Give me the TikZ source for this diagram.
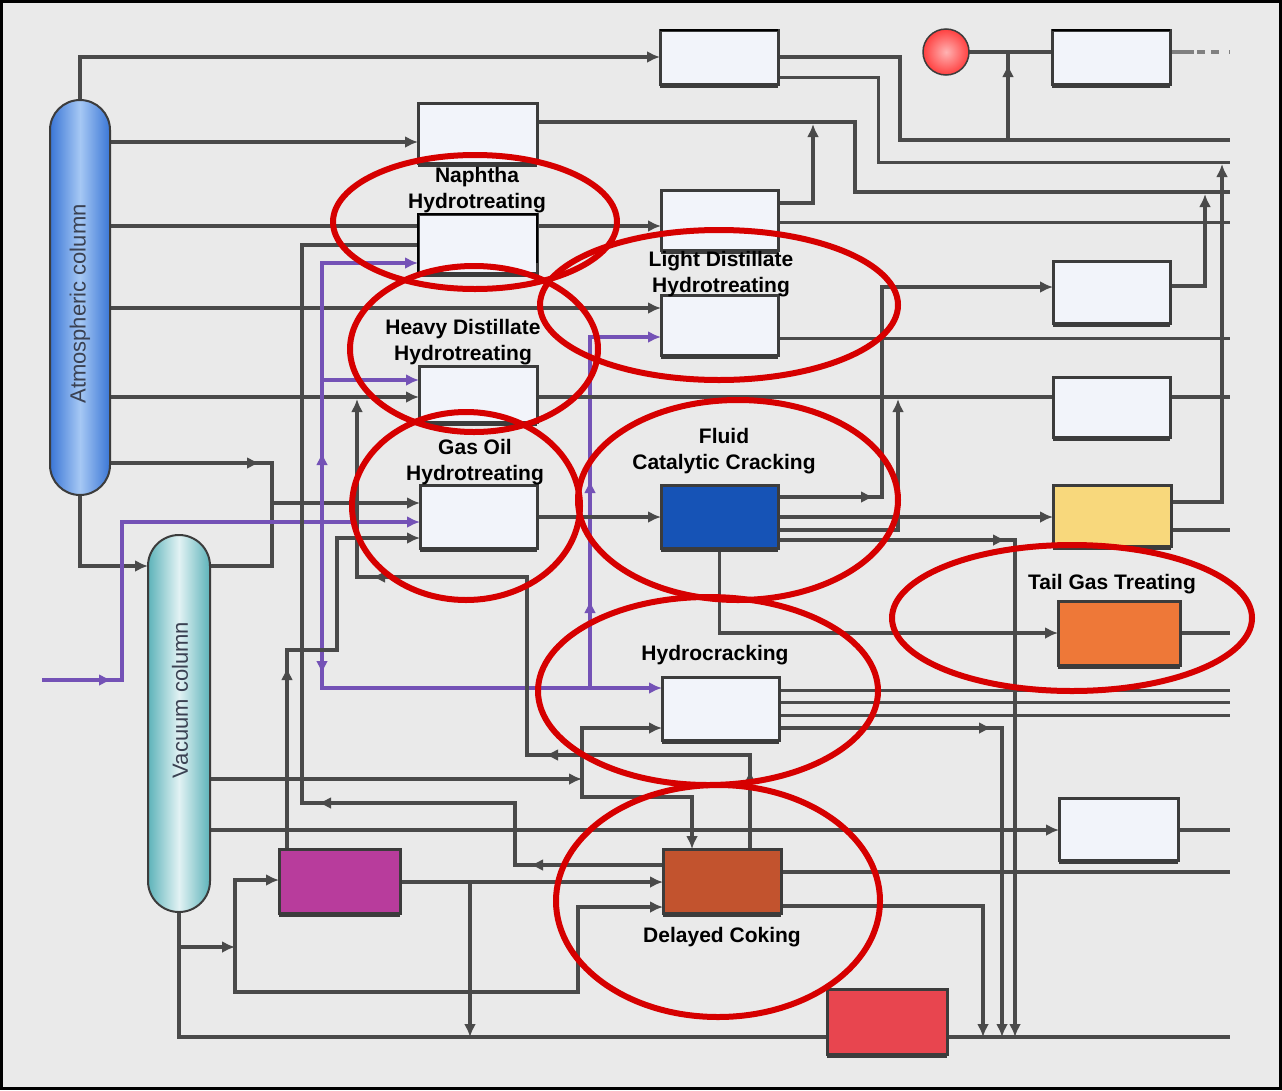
\documentclass[tikz,border=0pt]{standalone}
\usepackage{fontspec}
\setmainfont{Liberation Sans}
\usetikzlibrary{arrows.meta,decorations.markings,calc}
\pgfdeclarelayer{back}
\pgfdeclarelayer{front}
\pgfsetlayers{back,main,front}
\definecolor{bgc}{HTML}{EAEAEA}
\definecolor{pipec}{HTML}{4A4A4A}
\definecolor{boxc}{HTML}{3C3C3C}
\definecolor{boxw}{HTML}{F2F4FA}
\definecolor{h2c}{HTML}{7452B6}
\definecolor{ringc}{HTML}{D60000}
\definecolor{fccc}{HTML}{1653B6}
\definecolor{yelc}{HTML}{F8D87C}
\definecolor{orac}{HTML}{EE7838}
\definecolor{magc}{HTML}{B83C9C}
\definecolor{cokc}{HTML}{C2532E}
\definecolor{redb}{HTML}{E8454F}
\definecolor{atmE}{HTML}{3A76D6}
\definecolor{atmM}{HTML}{A6C8F4}
\definecolor{vacE}{HTML}{5DB3B9}
\definecolor{vacM}{HTML}{E2F2F4}
\definecolor{colt}{HTML}{3A4152}
\begin{document}
\begin{tikzpicture}[x=1pt,y=-1pt,>={Latex[length=13pt,width=12pt]},
  pipe/.style={draw=pipec,line width=3.5pt},
  h2/.style={draw=h2c,line width=4pt},
  wbox/.style={draw=boxc,line width=3pt,fill=boxw,inner sep=0pt,outer sep=0pt},
  ring/.style={draw=ringc,line width=6pt},
  lab/.style={font=\fontsize{21}{26}\selectfont\bfseries,align=center,text=black},
  coltxt/.style={font=\fontsize{22}{26}\selectfont,rotate=90,text=colt},
  am/.style={postaction={decorate,decoration={markings,mark=at position #1 with {\arrow{>}}}}}]
\useasboundingbox (0,0) rectangle (1282,1090);

% columns
\node[draw=boxc,line width=2pt,rounded corners=30pt,minimum width=60,minimum height=395,inner sep=0pt,outer sep=0pt,left color=atmE,right color=atmE,middle color=atmM] (atm) at (80,297.5) {};
\node[coltxt] (atmlab) at (80,304) {Atmospheric column};
\node[draw=boxc,line width=2pt,rounded corners=31pt,minimum width=62,minimum height=377,inner sep=0pt,outer sep=0pt,left color=vacE,right color=vacE,middle color=vacM] (vac) at (179,723.5) {};
\node[coltxt] (vaclab) at (180,700) {Vacuum column};

% boxes
\node[wbox,minimum width=118,minimum height=54] (b1) at (719,57) {};
\node[wbox,minimum width=118,minimum height=54] (b2) at (1111,57) {};
\node[circle,draw=boxc,line width=1.5pt,minimum size=46,inner sep=0pt,outer sep=0pt,inner color=red!30!white,outer color=red!75!white] (circ) at (946,52) {};
\node[wbox,minimum width=119,minimum height=60] (nhtU) at (477.5,133) {};
\node[wbox,minimum width=119,minimum height=59] (nhtL) at (477.5,243.5) {};
\node[wbox,minimum width=117,minimum height=60] (ldhU) at (719.5,220) {};
\node[wbox,minimum width=117,minimum height=60] (ldhL) at (719.5,325) {};
\node[wbox,minimum width=118,minimum height=56] (hdh) at (478,394) {};
\node[wbox,minimum width=117,minimum height=63] (goh) at (478.5,516.5) {};
\node[wbox,fill=fccc,minimum width=117,minimum height=63] (fcc) at (719.5,516.5) {};
\node[wbox,minimum width=117,minimum height=62] (r1) at (1111.5,292) {};
\node[wbox,minimum width=117,minimum height=60] (r2) at (1111.5,407) {};
\node[wbox,fill=yelc,minimum width=118,minimum height=61] (yel) at (1112,515.5) {};
\node[wbox,fill=orac,minimum width=122,minimum height=64] (tg) at (1119,633) {};
\node[wbox,minimum width=117,minimum height=63] (hc) at (720.5,708.5) {};
\node[wbox,minimum width=119,minimum height=62] (r3) at (1118.5,829) {};
\node[wbox,fill=magc,minimum width=121,minimum height=64] (pbox) at (339.5,881) {};
\node[wbox,fill=cokc,minimum width=118,minimum height=64] (coker) at (722,881) {};
\node[wbox,fill=redb,minimum width=120,minimum height=65] (rbox) at (887,1021.5) {};
\foreach \b in {b1,b2,nhtU,nhtL,ldhU,ldhL,hdh,goh,fcc,r1,r2,yel,tg,hc,r3,pbox,coker,rbox}
  \draw[boxc,line width=4pt] ([yshift=-2pt]\b.south west) -- ([yshift=-2pt]\b.south east);
\draw[black,line width=2.5pt] (b1.north west) -- (b1.north east);
\draw[black,line width=2.5pt] (b2.north west) -- (b2.north east);
\draw[black,line width=2.5pt] (nhtL.south west) -- (nhtL.north west) -- (nhtL.north east) -- ([yshift=10pt]nhtL.south east);

\coordinate (rim) at (1230,0);
\coordinate (feed) at (42,680);

\begin{pgfonlayer}{back}
\fill[bgc] (0,0) rectangle (1282,1090);
% atmospheric column outputs
\draw[pipe,->] (atm.north) |- (b1.west);
\draw[pipe,->] (atm.east|-0,142) -- (nhtU.west|-0,142);
\draw[pipe,->] (atm.east|-0,226) -- (ldhU.west|-0,226);
\draw[pipe,->] (atm.east|-0,308) -- (ldhL.west|-0,308);
\draw[pipe,->] (atm.east|-0,397) -- (hdh.west|-0,397);
\draw[pipe,->,am=150pt] (atm.east|-0,463) -| (272,503) -- (goh.west|-0,503);
\draw[pipe] (vac.east|-0,566) -| (272,503);
\draw[pipe,->] (atm.south) |- (vac.west|-0,566);
% hydrogen
\draw[h2,->,am=70pt] (feed) -| (122,522) -- (goh.west|-0,522);
\draw[h2,->,am=70pt] (322,522) |- (nhtL.west|-0,263);
\draw[h2,->] (322,380) -- (hdh.west|-0,380);
\draw[h2,->,am=152pt] (322,522) |- (hc.west|-0,688);
\draw[h2,->,am=88pt,am=208pt] (590,688) |- (ldhL.west|-0,337);
% recycles
\draw[pipe,am=133pt,am=407pt] (coker.west|-0,865) -| (515,803) -| (302,245) -- (nhtL.west|-0,245);
\draw[pipe,->,am=182pt] (pbox.north-|287,0) |- (337,650) |- (goh.west|-0,538);
\draw[pipe,->,am=79pt,am=299pt,am=650pt] (coker.north-|750,0) |- (527,755) |- (357,577) -- (357,399);
% vacuum column outputs
\draw[pipe,->] (vac.east|-0,779) -- (582,779);
\draw[pipe,->] (582,779) |- (hc.west|-0,728);
\draw[pipe,->] (582,779) |- (692,797) -- (coker.north-|692,0);
\draw[pipe,->] (vac.east|-0,830) -- (r3.west|-0,830);
\draw[pipe] (vac.south) |- (rim|-0,1037);
\draw[pipe,->] (vac.south|-0,947) -- (235,947);
\draw[pipe,->] (235,992) |- (pbox.west|-0,880);
\draw[pipe,->] (235,947) |- (578,992) |- (coker.west|-0,907);
\draw[pipe,->] (pbox.east|-0,882) -- (coker.west|-0,882);
\draw[pipe,->] (470,882) -- (470,1037);
% coker outputs
\draw[pipe] (coker.east|-0,872) -- (rim|-0,872);
\draw[pipe,->] (coker.east|-0,906) -| (983,1037);
% hydrocracker outputs
\foreach \yy in {690,702,715} \draw[pipe,line width=3pt] (hc.east|-0,\yy) -- (rim|-0,\yy);
\draw[pipe,->,am=213pt] (hc.east|-0,728) -| (1002,1037);
% gas oil / FCC
\draw[pipe,->] (goh.east|-0,517) -- (fcc.west|-0,517);
\draw[pipe,->,am=96pt] (fcc.east|-0,497) -| (882,287) -- (r1.west|-0,287);
\draw[pipe,->] (fcc.east|-0,517) -- (yel.west|-0,517);
\draw[pipe,->] (fcc.east|-0,530) -| (898,399);
\draw[pipe,->,am=228pt] (fcc.east|-0,540) -| (1015,1037);
\draw[pipe,->] (fcc.south) |- (tg.west|-0,633);
% middle distillates
\draw[pipe] (hdh.east|-0,397) -- (r2.west|-0,397);
\draw[pipe] (r2.east|-0,397) -- (rim|-0,397);
\draw[pipe,line width=3pt] (ldhL.east|-0,338) -- (rim|-0,338);
\draw[pipe,->] (ldhU.east|-0,203) -| (813,124);
\draw[pipe,line width=3pt] (ldhU.east|-0,222) -- (rim|-0,222);
\draw[pipe] (nhtU.east|-0,122) -| (855,192) -- (rim|-0,192);
% top
\draw[pipe] (b1.east|-0,57) -| (900,140) -- (rim|-0,140);
\draw[pipe,line width=3pt] (b1.east|-0,77) -| (878,162) -- (rim|-0,162);
\draw[pipe] (circ.east) -- (b2.west|-0,52);
\draw[pipe,am=76pt] (1008,140) -- (1008,52);
\draw[pipe,draw=gray,dash pattern=on 24pt off 3pt on 8pt off 6pt on 8pt off 10pt] (b2.east|-0,52) -- (rim|-0,52);
\draw[pipe,->] (r1.east|-0,286) -| (1205,194);
\draw[pipe,->] (yel.east|-0,502) -| (1222,164);
\draw[pipe] (yel.east|-0,530) -- (rim|-0,530);
\draw[pipe] (tg.east|-0,633) -- (rim|-0,633);
\draw[pipe] (r3.east|-0,830) -- (rim|-0,830);
\end{pgfonlayer}

\begin{pgfonlayer}{front}
\draw[ring] (475,222) ellipse [x radius=142pt, y radius=67pt];
\draw[ring] (719,305) ellipse [x radius=179pt, y radius=75pt];
\draw[ring] (474,349) ellipse [x radius=124pt, y radius=83pt];
\draw[ring] (466,506) ellipse [x radius=114pt, y radius=94pt];
\draw[ring] (738,500) ellipse [x radius=160pt, y radius=100pt];
\draw[ring] (1072,618) ellipse [x radius=180pt, y radius=73pt];
\draw[ring] (708,691) ellipse [x radius=170pt, y radius=94pt];
\draw[ring] (718,901) ellipse [x radius=162pt, y radius=116pt];
\node[lab] (lnht) at (477,190) {Naphtha\\Hydrotreating};
\node[lab] (lldh) at (721,274) {Light Distillate\\Hydrotreating};
\node[lab] (lhdh) at (463,342) {Heavy Distillate\\Hydrotreating};
\node[lab] (lgoh) at (475,462) {Gas Oil\\Hydrotreating};
\node[lab] (lfcc) at (724,451) {Fluid\\Catalytic Cracking};
\node[lab] (ltg) at (1112,584) {Tail Gas Treating};
\node[lab] (lhc) at (715,655) {Hydrocracking};
\node[lab] (ldc) at (722,937) {Delayed Coking};
\draw[black,line width=3pt] (1.5,1.5) rectangle (1280.5,1088.5);
\end{pgfonlayer}
\end{tikzpicture}
\end{document}
